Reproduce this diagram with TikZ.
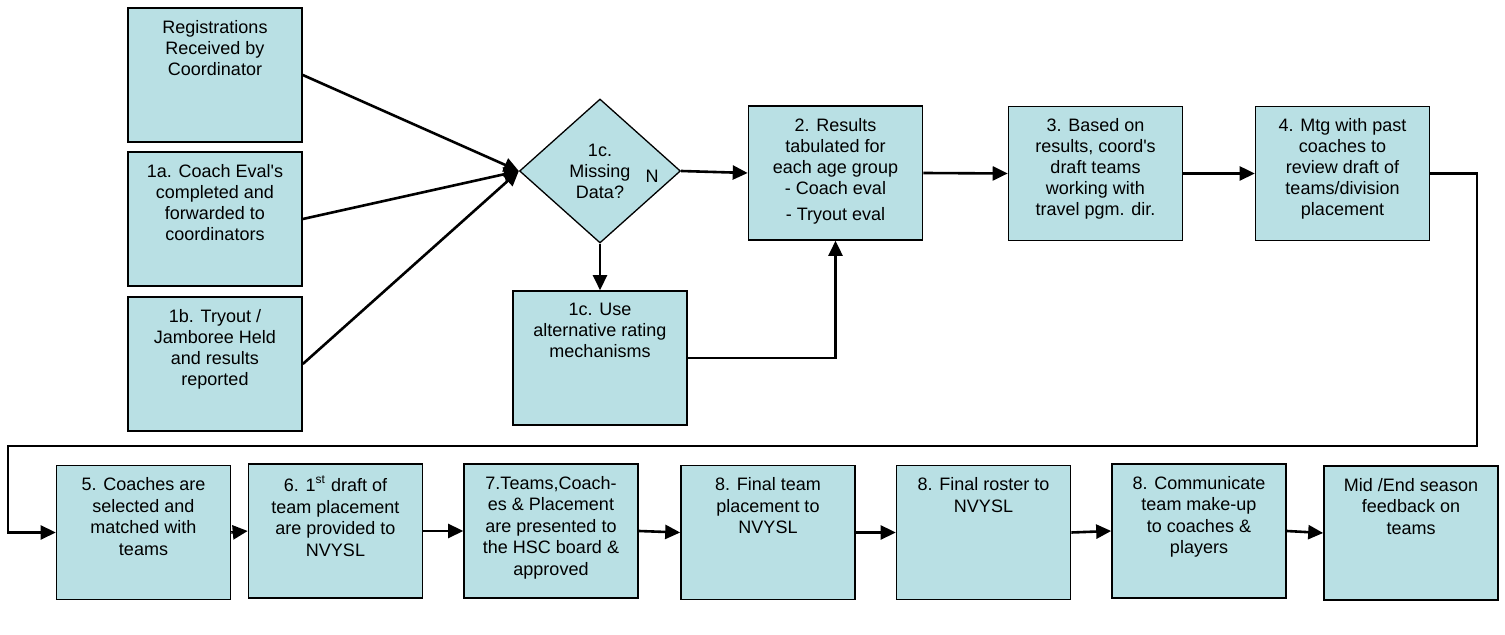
\documentclass[tikz,border=0pt]{standalone}
\usepackage{xcolor}
\usepackage{fontspec}
\usepackage{tikz}
\usetikzlibrary{shapes, arrows.meta, positioning, calc}
\newfontfamily\arialfont{Liberation Sans}
\definecolor{boxfill}{RGB}{185,224,228}

\begin{document}
\begin{tikzpicture}[x=0.5pt, y=-0.5pt,
                    >={Triangle[length=7.5pt, width=7pt]},
                    txt/.style={font=\arialfont\fontsize{9}{10.5}\selectfont},
                    stepbox/.style={txt, draw, fill=boxfill, line width=0.8pt, inner xsep=2pt, inner ysep=6pt,
                        execute at begin node={\begin{minipage}[t][55pt][t]{83pt}\centering},
                        execute at end node={\end{minipage}}},
                    lowbox/.style={stepbox, font=\arialfont\fontsize{9}{10.8}\selectfont},
                    decision/.style={txt, draw, fill=boxfill, line width=0.65pt, diamond, aspect=1.1, inner sep=0pt,
                        minimum width=80.5pt, minimum height=72pt, align=center},
                    flow/.style={->, line width=1.3pt}]
                    \useasboundingbox (0,0) rectangle (1505,635);

                    \node[stepbox] (Regist) at (215,75) {Registrations\\Received by\\Coordinator};
                    \node[stepbox] (CoachEval) at (215,219) {1a. Coach Eval's\\completed and\\forwarded to\\coordinators};
                    \node[stepbox] (Tryout) at (215,364) {1b. Tryout /\\Jamboree Held\\and results\\reported};

                    \node[decision] (Missing) at (600,171) {1c.\\Missing\\Data?};
                    \node[txt] (NLabel) at (652,176) {N};
                    \node[stepbox] (AltRating) at (600,358) {1c. Use\\alternative rating\\mechanisms};

                    \node[stepbox] (Results) at (835.5,173) {2. Results\\tabulated for\\each age group\\- Coach eval\\[2.5pt]- Tryout eval};
                    \node[stepbox] (Draft) at (1095.5,173.5) {3. Based on\\results, coord's\\draft teams\\working with\\travel pgm. dir.};
                    \node[stepbox] (Review) at (1342.5,173.5) {4. Mtg with past\\coaches to\\review draft of\\teams/division\\placement};

                    \node[lowbox] (Select) at (143.5,532.5) {5. Coaches are\\selected and\\matched with\\teams};
                    \node[lowbox] (FirstDraft) at (335.5,531) {6. 1\textsuperscript{st} draft of\\team placement\\are provided to\\NVYSL};
                    \node[lowbox] (Board) at (551,531) {7.Teams,Coach-\\es \& Placement\\are presented to\\the HSC board \&\\approved};
                    \node[lowbox] (FinalPlace) at (768,532.5) {8. Final team\\placement to\\NVYSL};
                    \node[lowbox] (FinalRoster) at (983.5,532.5) {8. Final roster to\\NVYSL};
                    \node[lowbox] (Communicate) at (1199,531) {8. Communicate\\team make-up\\to coaches \&\\players};
                    \node[lowbox] (Feedback) at (1411,533) {Mid /End season\\feedback on\\teams};

                    \coordinate (TurnR) at (1477,446);
                    \coordinate (TurnL) at (8,446);

                    \draw[flow] (Regist.east) to (Missing.west);
                    \draw[flow] (CoachEval.east) to (Missing.west);
                    \draw[flow] (Tryout.east) to (Missing.west);
                    \draw[flow] (Missing.east) to (Results.west);
                    \draw[flow] (Missing.south) to (AltRating.north);
                    \draw[flow] (AltRating.east) -| (Results.south);
                    \draw[flow] (Results.east) to (Draft.west);
                    \draw[flow] (Draft.east) to (Review.west);
                    \draw[flow] (Review.east) -| (TurnR) -- (TurnL) |- (Select.west);
                    \draw[flow] (Select.east) to (FirstDraft.west);
                    \draw[flow] (FirstDraft.east) to (Board.west);
                    \draw[flow] (Board.east) to (FinalPlace.west);
                    \draw[flow] (FinalPlace.east) to (FinalRoster.west);
                    \draw[flow] (FinalRoster.east) to (Communicate.west);
                    \draw[flow] (Communicate.east) to (Feedback.west);
                \end{tikzpicture}
\end{document}
